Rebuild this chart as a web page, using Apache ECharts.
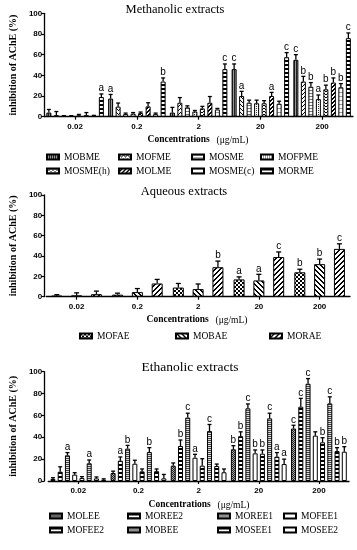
<!DOCTYPE html>
<html><head><meta charset="utf-8">
<script src="https://cdn.jsdelivr.net/npm/echarts@6/dist/echarts.min.js"></script>
<style>html,body{margin:0;padding:0;background:#fff}#c{width:357px;height:550px}</style>
</head><body><div id="c"></div>
<script>
const categories = ['0.02', '0.2', '2', '20', '200'];
const yTicksMax = 100;

// Methanolic extracts
const metSeries = ['MOBME', 'MOFME', 'MOSME', 'MOFPME', 'MOSME(h)', 'MOLME', 'MOSME(c)', 'MORME'];
const metValues = [
  [4, 17.5, 4, 46, 55],
  [1.5, 9.7, 13.5, 20, 34],
  [0.5, 2.5, 9, 13.5, 29],
  [0.5, 3, 5, 13, 17],
  [1.2, 3.5, 8, 13, 26.5],
  [1.5, 10, 13.5, 20, 33],
  [0.8, 2.5, 7, 12.5, 28.5],
  [19, 34, 46, 57.5, 76]
];
const metErrors = [
  [3, 4, 5, 5, 5],
  [3.5, 3.5, 5, 4.5, 5],
  [0.5, 1, 1.5, 2.5, 4],
  [0.5, 1, 1, 3, 4],
  [1, 1, 2, 2.5, 4],
  [2.5, 3.5, 6, 3.5, 4.5],
  [0.5, 1, 1, 2.5, 3.5],
  [3, 3.5, 5, 4.5, 5]
];
const metLetters = [
  ['', 'a', '', 'c', 'c'],
  ['', '', '', 'a', 'b'],
  ['', '', '', '', 'b'],
  ['', '', '', '', 'a'],
  ['', '', '', '', 'b'],
  ['', '', '', 'a', 'b'],
  ['', '', '', '', 'b'],
  ['a', 'b', 'c', 'c', 'c']
];

// Aqueous extracts
const aqSeries = ['MOFAE', 'MOBAE', 'MORAE'];
const aqValues = [
  [1, 2, 9, 17, 24],
  [1.3, 4.5, 7.5, 16, 32],
  [2.5, 13, 29, 39, 47]
];
const aqErrors = [
  [1, 1.5, 4, 2.5, 3],
  [2.5, 3.5, 5, 6, 5],
  [3, 4, 6, 5, 5]
];
const aqLetters = [
  ['', '', '', 'a', 'b'],
  ['', '', '', 'a', 'b'],
  ['', '', 'b', 'c', 'c']
];

// Ethanolic extracts
const ethSeries = ['MOLEE', 'MOREE2', 'MOREE1', 'MOFEE1', 'MOFEE2', 'MOBEE', 'MOSEE1', 'MOSEE2'];
const ethValues = [
  [1.8, 7.3, 14, 29, 48],
  [8.5, 18.6, 32, 41, 68],
  [23.5, 29.6, 58, 66.5, 89],
  [5.8, 15.8, 21.3, 25.3, 41.5],
  [2.7, 8.8, 14, 25, 35.4],
  [16.2, 26.5, 45.7, 57.3, 71],
  [2.4, 9, 13.7, 22.3, 27.4],
  [1.2, 2.4, 8, 15.5, 26.8]
];
const ethErrors = [
  [1.2, 1.7, 2.5, 3.3, 3],
  [4.5, 3.4, 5.5, 4, 7.6],
  [2.5, 3, 4, 4, 4.7],
  [1.8, 3.2, 3.1, 3.1, 3.5],
  [1.3, 2.2, 6.4, 3.4, 4.2],
  [3, 4, 6, 4.7, 6],
  [1.3, 2, 1.8, 3.7, 3.1],
  [0.8, 3.6, 3, 4.5, 4.6]
];
const ethLetters = [
  ['', '', '', 'b', 'c'],
  ['', 'a', 'b', 'b', 'c'],
  ['a', 'b', 'c', 'c', 'c'],
  ['', '', 'a', 'b', ''],
  ['', '', '', 'b', 'b'],
  ['a', 'b', 'c', 'c', 'c'],
  ['', '', '', 'a', 'b'],
  ['', '', '', 'a', 'b']
];

// ---------- patterns ----------
function pat(rows, fg, bg) {
  const h = rows.length, w = rows[0].length;
  const c = document.createElement('canvas');
  c.width = w; c.height = h;
  const g = c.getContext('2d');
  g.fillStyle = bg; g.fillRect(0, 0, w, h);
  g.fillStyle = fg;
  for (let y = 0; y < h; y++) for (let x = 0; x < w; x++) if (rows[y][x] === '#') g.fillRect(x, y, 1, 1);
  return { image: c, repeat: 'repeat' };
}
const P = {
  vstripe: pat(['#.', '#.'], '#222', '#999'),
  zig: pat(['#...', '.#.#', '..#.', '....'], '#000', '#fff'),
  hline: pat(['###', '...', '...'], '#777', '#fff'),
  dots: pat(['#.', '..'], '#333', '#fff'),
  zig2: pat(['#..#', '.##.', '....'], '#000', '#fff'),
  diag: pat(['..##', '.##.', '##..', '#..#'], '#000', '#fff'),
  sparse: pat(['##', '..', '..', '..'], '#999', '#fff'),
  ladder: pat(['###', '###', '...', '...'], '#000', '#fff'),
  check: pat(['##..', '##..', '..##', '..##'], '#000', '#fff'),
  back: pat(['##...', '.##..', '..##.', '...##', '#...#'], '#000', '#fff'),
  fwd: pat(['...##', '..##.', '.##..', '##...', '#...#'], '#000', '#fff'),
  gdots: pat(['#.', '.#'], '#222', '#aaa'),
  gdash: pat(['##', '..'], '#444', '#ddd'),
  white: '#fff'
};
const metPatterns = [P.vstripe, P.zig, P.hline, P.dots, P.zig2, P.diag, P.sparse, P.ladder];
const aqPatterns = [P.check, P.back, P.fwd];
const ethPatterns = [P.gdots, P.ladder, P.gdash, P.white, P.ladder, P.gdash, P.ladder, P.white];

// ---------- layout ----------
const grids = [
  { left: 31, right: 4, top: 13.3, height: 103.4 },
  { left: 33, right: 7, top: 195, height: 101.7 },
  { left: 36, right: 8, top: 371.7, height: 109.3 }
];
const yOffsets = [0, 2, 4];
const barSpec = [
  { w: 5, gap: 0.5 },
  { w: 11, gap: 0.8 },
  { w: 5, gap: 0.45 }
];

const xAxes = grids.map((g, i) => ({
  type: 'category', gridIndex: i, data: categories,
  axisLine: { show: true, lineStyle: { color: '#000', width: 1.3 } },
  axisTick: { show: true, alignWithLabel: true, length: 3, lineStyle: { color: '#000', width: 1.2 } },
  axisLabel: { color: '#000', fontFamily: 'Liberation Sans', fontWeight: 'bold', fontSize: 8, margin: 6 },
  splitLine: { show: false }
}));
const yAxes = grids.map((g, i) => ({
  type: 'value', gridIndex: i, min: 0, max: yTicksMax, interval: 20, offset: yOffsets[i],
  axisLine: { show: true, lineStyle: { color: '#000', width: 1.3 } },
  axisTick: { show: true, length: 3, lineStyle: { color: '#000', width: 1.2 } },
  axisLabel: { color: '#000', fontFamily: 'Liberation Sans', fontWeight: 'bold', fontSize: 8, margin: 2 },
  splitLine: { show: false },
  name: 'inhibition of AChE (%)', nameLocation: 'middle', nameGap: 18,
  nameTextStyle: { color: '#000', fontFamily: 'Liberation Serif', fontWeight: 'bold', fontSize: 10 }
}));

const series = [];
function addPanel(pi, names, vals, errs, letters, pats) {
  const spec = barSpec[pi];
  names.forEach((nm, s) => {
    series.push({
      type: 'bar', name: nm, xAxisIndex: pi, yAxisIndex: pi, data: vals[s],
      barWidth: spec.w, barGap: (spec.gap * 100) + '%',
      itemStyle: { color: pats[s], borderColor: '#000', borderWidth: 1 },
      emphasis: { disabled: true }, silent: true
    });
  });
  const n = names.length;
  const spacing = spec.w * (1 + spec.gap);
  const capW = Math.min(spec.w, 6) - 1;
  const data = [], idx = [];
  for (let s = 0; s < n; s++) for (let c = 0; c < categories.length; c++) {
    data.push([c, vals[s][c] + errs[s][c]]); idx.push([s, c]);
  }
  series.push({
    type: 'custom', xAxisIndex: pi, yAxisIndex: pi, z: 10, silent: true, data,
    renderItem: (params, api) => {
      const [s, c] = idx[params.dataIndex];
      const v = vals[s][c], e = errs[s][c];
      const p0 = api.coord([c, v]), p1 = api.coord([c, v + e]);
      const x = p0[0] + (s - (n - 1) / 2) * spacing;
      const ch = [
        { type: 'line', shape: { x1: x, y1: p0[1], x2: x, y2: p1[1] }, style: { stroke: '#000', lineWidth: 1.3 } },
        { type: 'line', shape: { x1: x - capW / 2, y1: p1[1], x2: x + capW / 2, y2: p1[1] }, style: { stroke: '#000', lineWidth: 1.3 } }
      ];
      if (letters[s][c]) ch.push({ type: 'text', style: { text: letters[s][c], x: x, y: p1[1] - 0.5, align: 'center', verticalAlign: 'bottom', textAlign: 'center', textVerticalAlign: 'bottom', font: '10px "Liberation Sans"', fill: '#000' } });
      return { type: 'group', children: ch };
    }
  });
}
addPanel(0, metSeries, metValues, metErrors, metLetters, metPatterns);
addPanel(1, aqSeries, aqValues, aqErrors, aqLetters, aqPatterns);
addPanel(2, ethSeries, ethValues, ethErrors, ethLetters, ethPatterns);

// legends
const legendPos = {
  met: [[46, 158], [118, 158], [191, 158], [260, 158], [46, 172], [118, 172], [191, 172], [260, 172]],
  aq: [[79, 337], [175, 337], [269, 337]],
  eth: [[49, 517], [127, 517], [217, 517], [283, 517], [49, 531], [127, 531], [217, 531], [283, 531]]
};
const legends = [];
function addLegends(names, pos) {
  names.forEach((nm, i) => legends.push({
    data: [nm], left: pos[i][0], top: pos[i][1] - 6, padding: 0, itemGap: 0,
    itemWidth: 12, itemHeight: 5, icon: 'rect', selectedMode: false,
    textStyle: { fontFamily: 'Liberation Serif', fontSize: 9.5, color: '#000' }
  }));
}
addLegends(metSeries, legendPos.met);
addLegends(aqSeries, legendPos.aq);
addLegends(ethSeries, legendPos.eth);

const richC = {
  b: { fontFamily: 'Liberation Serif', fontWeight: 'bold', fontSize: 9.5, fill: '#000', color: '#000' },
  n: { fontFamily: 'Liberation Serif', fontSize: 9.5, fill: '#000', color: '#000' }
};
function titleText(txt, x, y, size) {
  return { type: 'text', x: x, y: y, silent: true, style: { text: txt, font: size + 'px "Liberation Serif"', fill: '#000', align: 'center', verticalAlign: 'middle', textAlign: 'center', textVerticalAlign: 'middle' } };
}
function concText(x, y) {
  return { type: 'text', x: x, y: y, silent: true, style: { text: '{b|Concentrations}  {n|(μg/mL)}', rich: richC, align: 'center', verticalAlign: 'middle', textAlign: 'center', textVerticalAlign: 'middle' } };
}

const chart = echarts.init(document.getElementById('c'), null, { renderer: 'canvas' });
chart.setOption({
  animation: false,
  backgroundColor: '#fff',
  grid: grids,
  xAxis: xAxes,
  yAxis: yAxes,
  legend: legends,
  series: series,
  graphic: [
    titleText('Methanolic extracts', 175, 10, 12.5),
    titleText('Aqueous extracts', 184, 192, 12.5),
    titleText('Ethanolic extracts', 190, 367, 13.5),
    concText(198, 140),
    concText(197, 320),
    concText(199, 505)
  ]
});
</script></body></html>
